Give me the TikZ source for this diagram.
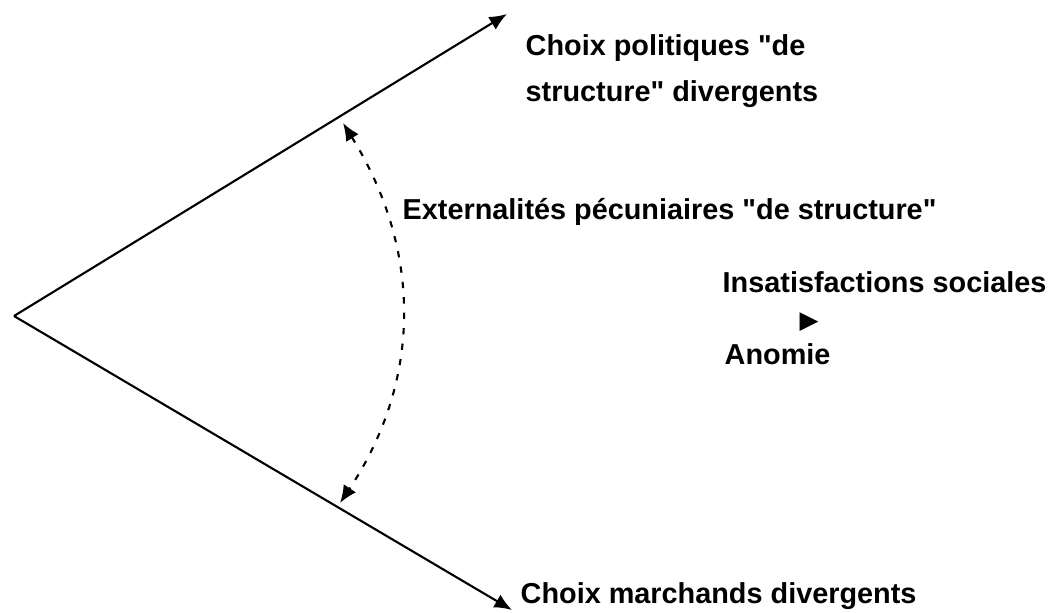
\documentclass[tikz,border=0pt]{standalone}
\usepackage{fontspec}
\setmainfont{Liberation Sans}
\newfontfamily\symfont{DejaVu Sans}
\usetikzlibrary{arrows.meta}
\begin{document}
\begin{tikzpicture}[x=0.01cm,y=-0.01cm,
  lbl/.style={anchor=base west,inner sep=0pt,font=\fontsize{8.2}{12.8}\selectfont\bfseries,align=left},
  mainline/.style={line width=0.6pt,-{Latex[length=5pt,width=4.2pt]}},
  dashline/.style={line width=0.6pt,dash pattern=on 1.8pt off 2.6pt,{Latex[length=5pt,width=4.2pt]}-{Latex[length=5pt,width=4.2pt]}}]
\useasboundingbox (0,0) rectangle (1052,612);
\coordinate (V) at (14,316);
\coordinate (T) at (507,14);
\coordinate (B) at (512,610);
\coordinate (P1) at (343,123);
\coordinate (P2) at (340,503);
\draw[mainline] (V) -- (T);
\draw[mainline] (V) -- (B);
\draw[dashline] (P1) .. controls (422,250) and (422,380) .. (P2);
\node[lbl] (pol) at (525,101) {Choix politiques \textquotedbl de\\structure\textquotedbl{} divergents};
\node[lbl] (ext) at (402,219) {Externalités pécuniaires \textquotedbl de structure\textquotedbl};
\node[lbl] (ins) at (722,292) {Insatisfactions sociales};
\node[anchor=center,inner sep=0pt,font=\symfont\fontsize{7}{7}\selectfont] (tri) at (809,322) {▶};
\node[lbl] (ano) at (724,364) {Anomie};
\node[lbl] (mar) at (520,603) {Choix marchands divergents};
\end{tikzpicture}
\end{document}
